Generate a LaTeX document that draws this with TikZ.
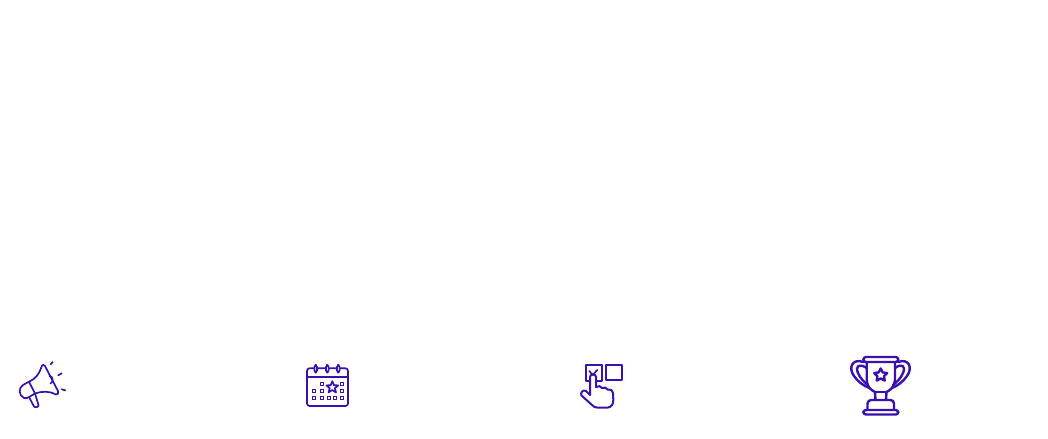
\documentclass[tikz,border=0pt]{standalone}
\usepackage{tikz}
\definecolor{iconblue}{HTML}{3A10B0}
\tikzset{
  icon/.style={draw=iconblue,line width=1.7*0.02cm,line join=round,line cap=round},
  iconthick/.style={draw=iconblue,line width=2.4*0.02cm,line join=round,line cap=round},
}
\begin{document}
\begin{tikzpicture}[x=0.02cm,y=-0.02cm]
\useasboundingbox (0,0) rectangle (1048,439);

% Megafon
\draw[icon] (42,365.5) .. controls (39,375) and (35,379) .. (29,381.7) -- (23,385) .. controls (18,388) and (19,396) .. (24,398) .. controls (28,399) and (30,396) .. (35,393.5) .. controls (42,391) and (50,391) .. (56,394.5) .. controls (58,395) and (59,393) .. (58,391) -- (45,366) .. controls (44,364.5) and (42.5,364.5) .. (42,365.5);
\draw[icon] (29,381.7) -- (35,393.5);
\draw[icon] (29,397) -- (34,406.5) .. controls (35,408) and (39,407) .. (38.5,405) -- (35,393.5);
\draw[icon] (49.5,376) .. controls (53,376) and (54,382) .. (50.5,383.5);
\draw[icon] (50.7,364.3) -- (52.7,362);
\draw[icon] (58.3,375.3) -- (61.7,373.3);
\draw[icon] (61.7,389.3) -- (65.3,390.3);

% Takvim
\draw[icon,rounded corners=1.5] (307,368.3) rectangle (348,406);
\draw[icon] (307,376.7) -- (348,376.7);
\foreach \x in {315.7,327.3,338.3}
  \draw[icon,fill=white,rounded corners=1] (\x-1.3,365) rectangle (\x+1.3,372.5);
\foreach \x/\y in {321.7/384.3,342.3/384.3,314/391,321.7/391,342.3/391,314/397.7,321.7/397.7,328.7/397.7,335.3/397.7,342.3/397.7}
  \draw[iconblue,line width=1.3*0.02cm] (\x-1.5,\y-1.5) rectangle (\x+1.5,\y+1.5);
\draw[icon] (332.3,381.2) -- (333.9,385.2) -- (338.2,385.4) -- (334.9,388.2) -- (336,392.4) -- (332.3,390) -- (328.6,392.4) -- (329.7,388.2) -- (326.4,385.4) -- (330.7,385.2) -- cycle;

% El ve kutular
\draw[iconthick,line width=2*0.02cm] (585.7,365) rectangle (601.7,380.7);
\draw[iconthick,line width=2*0.02cm] (605.7,365) rectangle (621.7,380);
\draw[iconthick,line width=2*0.02cm,fill=white] (590,395) -- (590,377) .. controls (590,373.5) and (596,373.5) .. (596,377) -- (596,387) .. controls (598,385.5) and (601.5,386) .. (602,388) .. controls (604,387) and (607,387.5) .. (607.5,389.5) .. controls (610,389) and (613,390) .. (613,393) -- (613.3,400) .. controls (613.3,404) and (611.5,407) .. (608,407.5) -- (597,407.5) .. controls (595,407.5) and (594,407) .. (592,405) -- (581.5,395.5) .. controls (580,393) and (583,389) .. (586,391) -- cycle;
\draw[icon] (589.3,371) -- (592.7,375) -- (597.3,370);

% Kupa
\draw[iconthick,rounded corners=1.5] (863.3,357) rectangle (898.3,362);
\draw[iconthick] (866.7,362) -- (866.7,380) .. controls (867,387) and (871,390) .. (875,392) -- (875.5,400);
\draw[iconthick] (895,362) -- (895,380) .. controls (894.5,387) and (890.5,390) .. (886.5,392) -- (886,400);
\draw[iconthick] (875,392) -- (886.5,392);
\draw[iconthick] (863.5,362) .. controls (852,358) and (848,368) .. (854,376) .. controls (858,382) and (864,386) .. (869.5,388);
\draw[iconthick] (866.7,368) .. controls (859,363) and (855,366) .. (858,373) .. controls (860,378) and (864,382) .. (868,385);
\draw[iconthick] (898,362) .. controls (909,358) and (913,368) .. (907,376) .. controls (903,382) and (897,386) .. (892,388);
\draw[iconthick] (895,368) .. controls (902,363) and (906,366) .. (903,373) .. controls (901,378) and (897,382) .. (893,385);
\draw[iconthick,rounded corners=2] (867.5,410) -- (867.5,400) -- (894,400) -- (894,410);
\draw[iconthick,rounded corners=1.5] (863.3,410) rectangle (898.3,414.5);
\draw[iconthick] (880.7,368.5) -- (882.7,372.4) -- (887.2,373.1) -- (884,376.2) -- (884.7,380.6) -- (880.7,378.5) -- (876.7,380.6) -- (877.4,376.2) -- (874.2,373.1) -- (878.7,372.4) -- cycle;

\end{tikzpicture}
\end{document}
